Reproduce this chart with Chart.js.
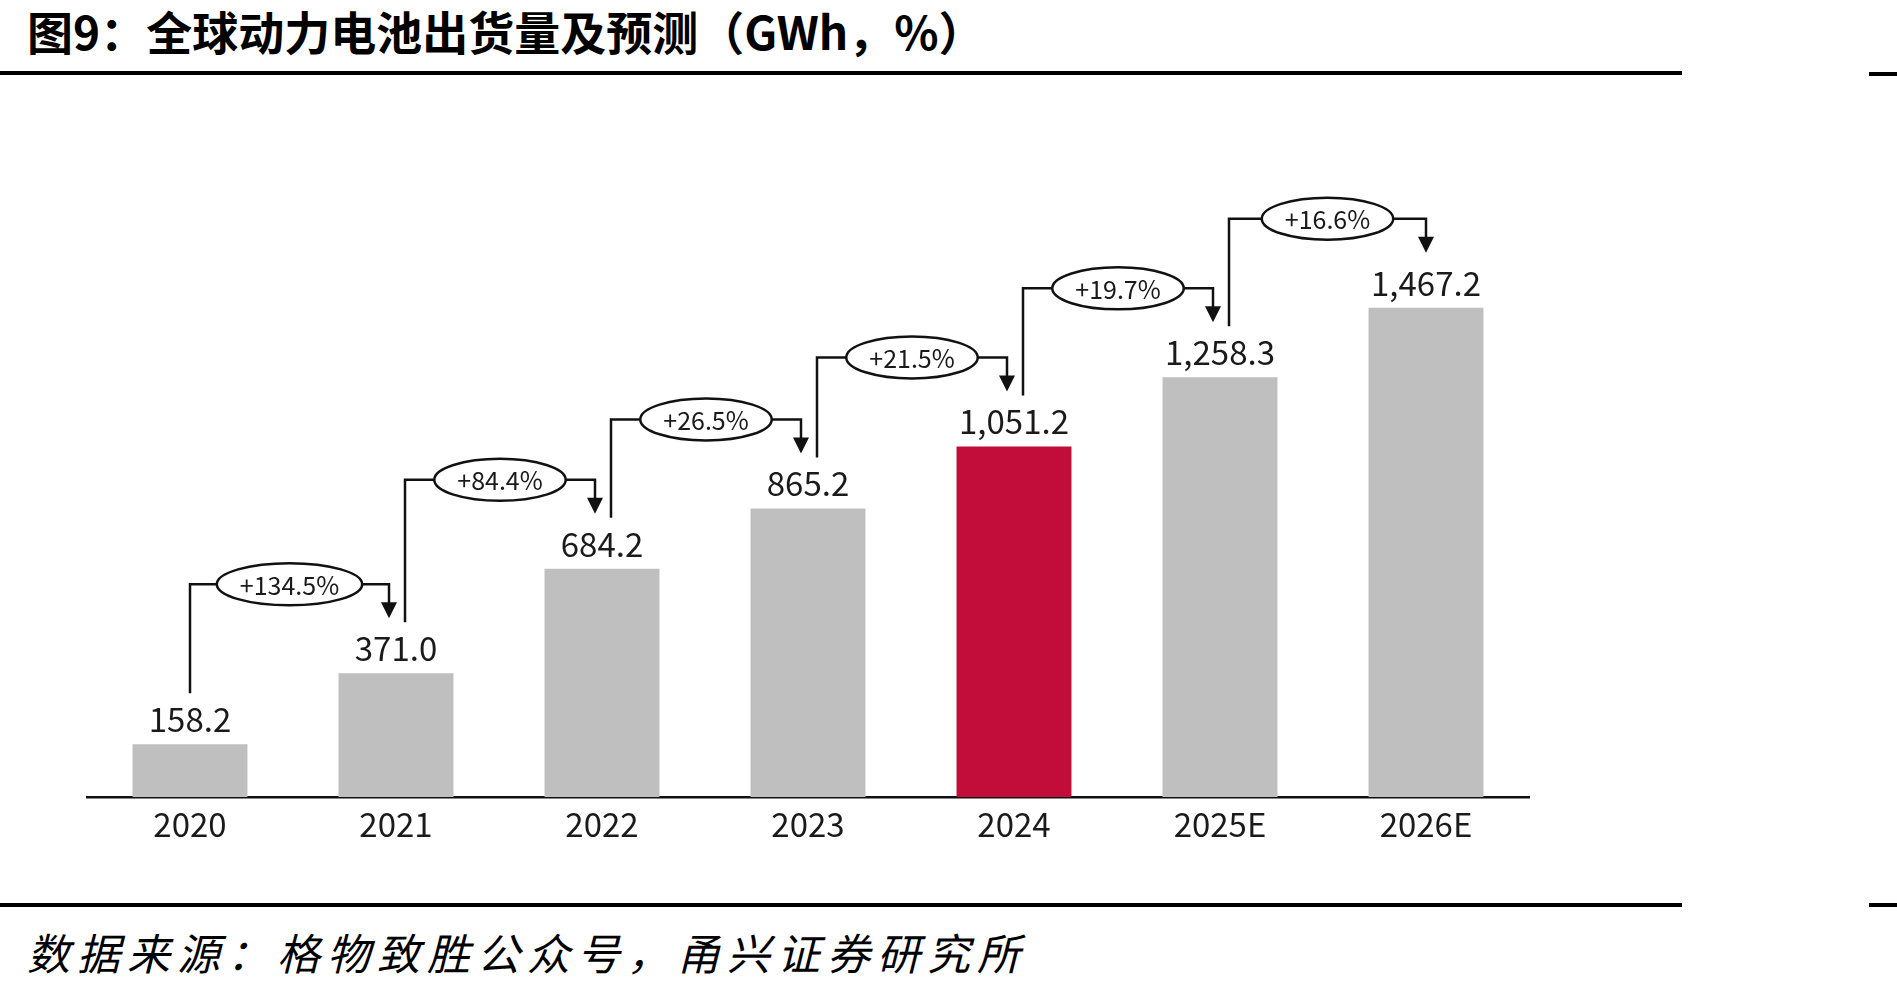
<!DOCTYPE html>
<html>
<head>
<meta charset="utf-8">
<script src="https://cdn.jsdelivr.net/npm/chart.js@4.4.1/dist/chart.umd.min.js"></script>
<style>
html,body{margin:0;padding:0;background:#fff;}
body{width:1897px;height:995px;position:relative;overflow:hidden;}
#title{position:absolute;left:27px;top:-3px;font-family:"Noto Sans CJK SC";font-weight:bold;font-size:46px;color:#000;white-space:nowrap;}
#source{position:absolute;left:27px;top:920px;font-family:"Noto Sans CJK SC";font-style:italic;font-size:43px;color:#000;white-space:nowrap;letter-spacing:7px;}
.rule{position:absolute;height:4px;background:#000;}
#wrap{position:absolute;left:0;top:100px;width:1897px;height:760px;}
</style>
</head>
<body>
<div id="title">图9：全球动力电池出货量及预测（GWh，%）</div>
<div class="rule" style="left:0;top:71px;width:1682px;"></div>
<div class="rule" style="left:1869px;top:72px;width:28px;"></div>
<div id="wrap"><canvas id="chart"></canvas></div>
<div class="rule" style="left:0;top:903px;width:1682px;"></div>
<div class="rule" style="left:1869px;top:903px;width:28px;"></div>
<div id="source">数据来源：格物致胜公众号，甬兴证券研究所</div>
<script>
// DATA
const years=["2020","2021","2022","2023","2024","2025E","2026E"];
const shipments=[158.2,371.0,684.2,865.2,1051.2,1258.3,1467.2];
const growth=["+134.5%","+84.4%","+26.5%","+21.5%","+19.7%","+16.6%"];
const highlightYear="2024";

const GRAY="#bfbfbf", RED="#c20d3b", INK="#1a1a1a";
const FONT='"Noto Sans CJK SC"';

// value labels + growth arrows
const annotate={
    id:"annotate",
    afterDatasetsDraw(ch){
        const ctx=ch.ctx;
        const bars=ch.getDatasetMeta(0).data;
        ctx.save();

        ctx.fillStyle=INK;
        ctx.font=`33px ${FONT}`;
        ctx.textAlign="center";
        ctx.textBaseline="alphabetic";
        bars.forEach((b,i)=>{
            const txt=shipments[i].toLocaleString("en-US",{minimumFractionDigits:1,maximumFractionDigits:1});
            ctx.fillText(txt,b.x,b.y-12);
        });

        ctx.strokeStyle="#111";
        ctx.lineWidth=2.5;
        growth.forEach((g,i)=>{
            const a=bars[i], b=bars[i+1];
            const x0=a.x+(i===0?0:9);
            const x1=b.x-(i===growth.length-1?0:7);
            const y0=a.y-51;
            const yE=b.y-89;
            const tip=b.y-55;
            const cx=(x0+x1)/2;
            ctx.font=`25px ${FONT}`;
            const rx=ctx.measureText(g).width/2+23, ry=21;

            ctx.beginPath();
            ctx.moveTo(x0,y0);
            ctx.lineTo(x0,yE);
            ctx.lineTo(cx-rx,yE);
            ctx.moveTo(cx+rx,yE);
            ctx.lineTo(x1,yE);
            ctx.lineTo(x1,tip-14);
            ctx.stroke();

            ctx.beginPath();
            ctx.moveTo(x1-8,tip-16);
            ctx.lineTo(x1+8,tip-16);
            ctx.lineTo(x1,tip);
            ctx.closePath();
            ctx.fillStyle="#111";
            ctx.fill();

            ctx.beginPath();
            ctx.ellipse(cx,yE,rx,ry,0,0,Math.PI*2);
            ctx.fillStyle="#fff";
            ctx.fill();
            ctx.stroke();

            ctx.fillStyle=INK;
            ctx.textBaseline="middle";
            ctx.fillText(g,cx,yE+1);
            ctx.textBaseline="alphabetic";
        });
        ctx.restore();
    }
};

new Chart(document.getElementById("chart"),{
    type:"bar",
    data:{
        labels:years,
        datasets:[{
            data:shipments,
            backgroundColor:years.map(y=>y===highlightYear?RED:GRAY),
            borderWidth:0,
            categoryPercentage:1,
            barPercentage:0.558
        }]
    },
    options:{
        responsive:true,
        maintainAspectRatio:false,
        animation:false,
        layout:{padding:{left:87,right:368,top:30,bottom:3}},
        plugins:{legend:{display:false},tooltip:{enabled:false}},
        scales:{
            x:{
                grid:{display:false,drawTicks:false},
                border:{display:true,color:"#111",width:2.5},
                ticks:{color:INK,font:{family:FONT,size:33},padding:8},
                afterFit(s){s.height=60;}
            },
            y:{display:false,min:0,max:2000}
        }
    },
    plugins:[annotate]
});
</script>
</body>
</html>
